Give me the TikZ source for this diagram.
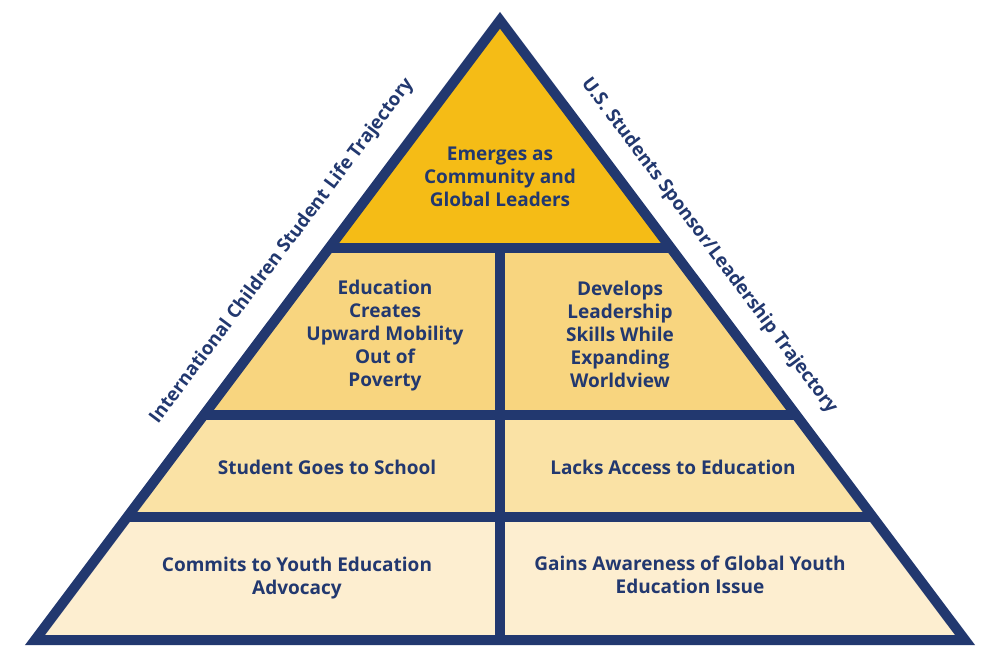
\documentclass[tikz,border=0pt]{standalone}
\usepackage{fontspec}
\setmainfont{Open Sans}
\usepackage{xcolor}
\usepackage{tikz}
\usetikzlibrary{calc,positioning}

\definecolor{navy}{HTML}{22386F}
\definecolor{gold}{HTML}{F5BC16}
\definecolor{sand}{HTML}{F8D57F}
\definecolor{wheat}{HTML}{FAE2A5}
\definecolor{cream}{HTML}{FDEED0}

\tikzset{
    bar/.style={draw=navy, line width=10pt},
    tiertext/.style={text=navy, font=\fontsize{19}{23}\selectfont\bfseries, align=center},
    sidelabel/.style={text=navy, font=\fontsize{18.7}{20}\selectfont\bfseries}
}

\begin{document}
\begin{tikzpicture}[x=1pt, y=-1pt]
    \useasboundingbox (0,0) rectangle (1000,659);
    % outline corners (centre of the navy stroke)
    \coordinate (apex) at (500,20.3);
    \coordinate (bl) at (35,640);
    \coordinate (br) at (965,640);
    % tier boundaries along the sides
    \foreach \n/\t in {1/0.3674, 2/0.6369, 3/0.8015} {
        \coordinate (l\n) at ($(apex)!\t!(bl)$);
        \coordinate (r\n) at ($(apex)!\t!(br)$);
    }
    \coordinate (midtop) at (500,248);
    \coordinate (midbot) at (500,640);

    % tiers
    \fill[gold] (apex) -- (l1) -- (r1) -- cycle;
    \fill[sand] (l1) -- (l2) -- (r2) -- (r1) -- cycle;
    \fill[wheat] (l2) -- (l3) -- (r3) -- (r2) -- cycle;
    \fill[cream] (l3) -- (bl) -- (br) -- (r3) -- cycle;

    % separating bars and outline
    \foreach \n in {1,2,3} {
        \draw[bar] (l\n) -- (r\n);
    }
    \draw[bar] (midtop) -- (midbot);
    \draw[bar, line join=miter] (apex) -- (bl) -- (br) -- cycle;

    % tier texts
    \node[tiertext] (leaders) at (500,177) {Emerges as\\Community and\\Global Leaders};
    \node[tiertext] (mobility) at (385,336) {Education\\Creates\\Upward Mobility\\Out of\\Poverty};
    \node[tiertext] (worldview) at (620,334) {Develops\\Leadership\\Skills While\\Expanding\\Worldview};
    \node[tiertext] (school) at (327,467) {Student Goes to School};
    \node[tiertext] (access) at (673,467) {Lacks Access to Education};
    \node[tiertext] (advocacy) at (297,578) {Commits to Youth Education\\Advocacy};
    \node[tiertext] (awareness) at (690,575) {Gains Awareness of Global Youth\\Education Issue};

    % trajectories along the sides
    \node[sidelabel, rotate=53.13] (lifetraj) at (282,251) {International Children Student Life Trajectory};
    \node[sidelabel, rotate=-53.13] (sponsortraj) at (709,246) {U.S. Students Sponsor/Leadership Trajectory};
\end{tikzpicture}
\end{document}
